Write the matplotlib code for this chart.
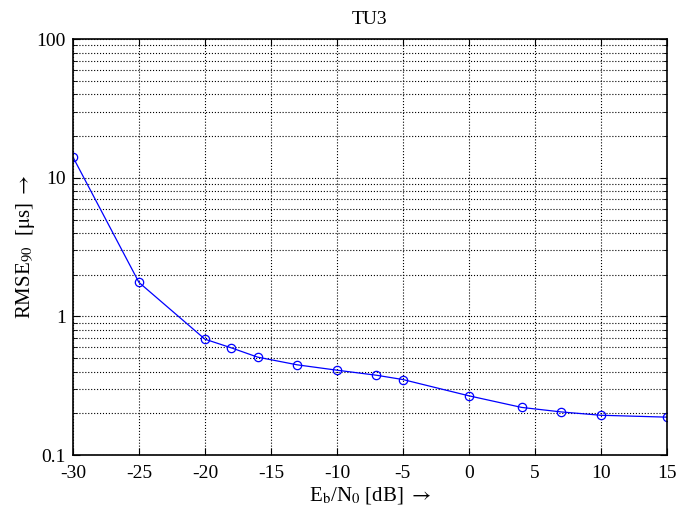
import numpy as np
import matplotlib
matplotlib.use("Agg")
import matplotlib.pyplot as plt
from matplotlib.ticker import LogLocator, FixedLocator, NullFormatter

plt.rcParams['font.family'] = ['Liberation Serif', 'DejaVu Serif']
plt.rcParams['mathtext.fontset'] = 'stix'

# data
ebn0 = [-30, -25, -20, -18, -16, -13, -10, -7, -5, 0, 4, 7, 10, 15]
rmse = [14.1, 1.76, 0.686, 0.594, 0.509, 0.448, 0.41, 0.377, 0.351, 0.268, 0.221, 0.205, 0.194, 0.188]
xticks = [-30, -25, -20, -15, -10, -5, 0, 5, 10, 15]

fig = plt.figure(figsize=(6.79, 5.08), dpi=100)
ax = fig.add_axes([0.1075, 0.104, 0.8745, 0.819])

ax.plot(ebn0, rmse, color='blue', lw=0.9, marker='o', ms=6,
        mfc='none', mec='blue', mew=0.9)

ax.set_yscale('log')
ax.set_xlim(-30, 15)
ax.set_ylim(0.1, 100)
ax.xaxis.set_major_locator(FixedLocator(xticks))
ax.set_xticklabels([str(t) for t in xticks])
ax.yaxis.set_minor_locator(LogLocator(base=10, subs=np.arange(2, 10), numticks=20))
ax.yaxis.set_minor_formatter(NullFormatter())
ax.set_yticks([0.1, 1, 10, 100])
ax.set_yticklabels(['0.1', '1', '10', '100'])

ax.grid(True, which='major', ls=':', color='black', lw=0.8)
ax.grid(True, which='minor', axis='y', ls=':', color='black', lw=0.8)

ax.tick_params(which='both', direction='in', labelsize=14, top=True, right=True)
ax.tick_params(which='major', length=5)
ax.tick_params(which='minor', length=3)
ax.tick_params(axis='x', pad=7)
ax.tick_params(axis='y', pad=5)
for s in ax.spines.values():
    s.set_linewidth(1.2)

ax.set_title('TU3', fontsize=14, pad=11)
ax.set_xlabel(r'E$_\mathrm{b}$/N$_0$ [dB] $\rightarrow$', fontsize=15, labelpad=2)
ax.set_ylabel(r'RMSE$_{90}$  [$\mathrm{\mu}$s] $\rightarrow$', fontsize=15, labelpad=0)

fig.savefig('out.png', dpi=100)
